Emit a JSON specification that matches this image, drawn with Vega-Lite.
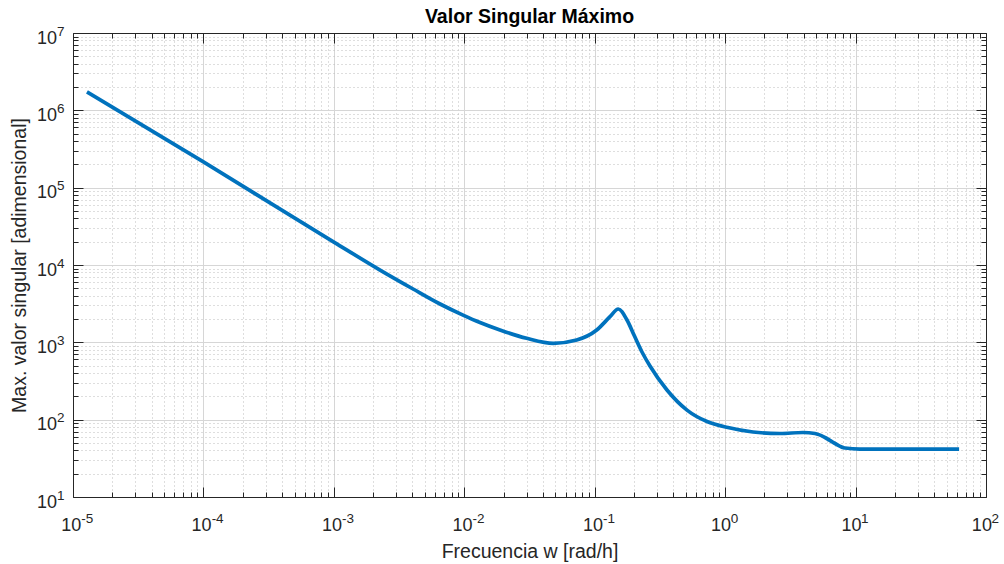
{
  "$schema": "https://vega.github.io/schema/vega-lite/v6.json",
  "autosize": {"type": "none"},
  "width": 913,
  "height": 464,
  "padding": {"left": 73, "top": 33, "right": 18, "bottom": 67},
  "background": "white",
  "title": {
    "text": "Valor Singular Máximo",
    "font": "Liberation Sans",
    "fontSize": 19.5,
    "fontWeight": "bold",
    "color": "#000000",
    "offset": 0,
    "dy": 3
  },
  "config": {
    "view": {"stroke": null},
    "axis": {
      "labelFont": "Liberation Sans",
      "labelFontSize": 18,
      "labelColor": "#262626",
      "titleFont": "Liberation Sans",
      "titleFontSize": 19.5,
      "titleFontWeight": "normal",
      "titleColor": "#262626",
      "domainColor": "#262626",
      "domainWidth": 1,
      "tickColor": "#262626",
      "tickWidth": 1,
      "labelOverlap": false,
      "labelFlush": false,
      "labelBound": false
    }
  },
  "datasets": {
    "sigma": [
      {"w": 1.28e-5, "sv": 1730000},
      {"w": 1e-4, "sv": 215000},
      {"w": 1e-3, "sv": 19800},
      {"w": 2.26e-3, "sv": 8600},
      {"w": 4.05e-3, "sv": 4892},
      {"w": 6.52e-3, "sv": 3130},
      {"w": 9.78e-3, "sv": 2250},
      {"w": 0.0132, "sv": 1804},
      {"w": 0.01878, "sv": 1443},
      {"w": 0.0301, "sv": 1127},
      {"w": 0.04813, "sv": 971},
      {"w": 0.07274, "sv": 1072},
      {"w": 0.1036, "sv": 1443},
      {"w": 0.131, "sv": 2145},
      {"w": 0.1516, "sv": 2697},
      {"w": 0.1768, "sv": 1944},
      {"w": 0.2001, "sv": 1243},
      {"w": 0.2304, "sv": 750},
      {"w": 0.2653, "sv": 494},
      {"w": 0.3581, "sv": 242},
      {"w": 0.5099, "sv": 133},
      {"w": 0.7257, "sv": 94.6},
      {"w": 1.051, "sv": 79.1},
      {"w": 1.635, "sv": 69.2},
      {"w": 2.634, "sv": 66.2},
      {"w": 3.954, "sv": 68.2},
      {"w": 4.886, "sv": 66.2},
      {"w": 5.83, "sv": 58.8},
      {"w": 6.955, "sv": 49.2},
      {"w": 8.297, "sv": 43.0},
      {"w": 10.81, "sv": 41.7},
      {"w": 62.2, "sv": 41.7}
    ]
  },
  "data": {"name": "sigma"},
  "resolve": {"axis": {"x": "independent", "y": "independent"}},
  "layer": [
    {
      "mark": {"type": "line", "color": "#0072BD", "strokeWidth": 3.7, "interpolate": "monotone", "clip": true},
      "encoding": {
        "x": {
          "field": "w",
          "type": "quantitative",
          "scale": {"type": "log", "domain": [1e-5, 100], "nice": false},
          "axis": {
            "orient": "bottom",
            "title": "Frecuencia w [rad/h]",
            "titleY": 60,
            "titleBaseline": "alphabetic",
            "values": [1e-5,2e-5,3e-5,4e-5,5e-5,6e-5,7e-5,8e-5,9e-5,1e-4,2e-4,3e-4,4e-4,5e-4,6e-4,7e-4,8e-4,9e-4,1e-3,2e-3,3e-3,4e-3,5e-3,6e-3,7e-3,8e-3,9e-3,0.01,0.02,0.03,0.04,0.05,0.06,0.07,0.08,0.09,0.1,0.2,0.3,0.4,0.5,0.6,0.7,0.8,0.9,1,2,3,4,5,6,7,8,9,10,20,30,40,50,60,70,80,90,100],
            "labelExpr": "abs(log(datum.value)/LN10 - round(log(datum.value)/LN10)) < 0.001 ? '10' : ''",
            "labelAlign": "right",
            "labelBaseline": "alphabetic",
            "labelPadding": 43,
            "labelOffset": {"condition": {"test": "datum.value < 0.5", "value": 7.7}, "value": 5.4},
            "tickSize": {"condition": {"test": "abs(log(datum.value)/LN10 - round(log(datum.value)/LN10)) < 0.001", "value": -10}, "value": -5},
            "grid": true,
            "gridColor": {"condition": {"test": "abs(log(datum.value)/LN10 - round(log(datum.value)/LN10)) < 0.001", "value": "#d6d6d6"}, "value": "#bdbdbd"},
            "gridDash": {"condition": {"test": "abs(log(datum.value)/LN10 - round(log(datum.value)/LN10)) < 0.001", "value": []}, "value": [1, 3]}
          }
        },
        "y": {
          "field": "sv",
          "type": "quantitative",
          "scale": {"type": "log", "domain": [10, 1e7], "nice": false},
          "axis": {
            "orient": "left",
            "title": "Max. valor singular [adimensional]",
            "titleX": -47.5,
            "titleBaseline": "alphabetic",
            "values": [10,20,30,40,50,60,70,80,90,100,200,300,400,500,600,700,800,900,1000,2000,3000,4000,5000,6000,7000,8000,9000,10000,20000,30000,40000,50000,60000,70000,80000,90000,100000,200000,300000,400000,500000,600000,700000,800000,900000,1000000,2000000,3000000,4000000,5000000,6000000,7000000,8000000,9000000,10000000],
            "labelExpr": "abs(log(datum.value)/LN10 - round(log(datum.value)/LN10)) < 0.001 ? '10' : ''",
            "labelAlign": "right",
            "labelBaseline": "alphabetic",
            "labelPadding": 26.5,
            "labelOffset": 10.3,
            "tickSize": {"condition": {"test": "abs(log(datum.value)/LN10 - round(log(datum.value)/LN10)) < 0.001", "value": -10}, "value": -5},
            "grid": true,
            "gridColor": {"condition": {"test": "abs(log(datum.value)/LN10 - round(log(datum.value)/LN10)) < 0.001", "value": "#d6d6d6"}, "value": "#bdbdbd"},
            "gridDash": {"condition": {"test": "abs(log(datum.value)/LN10 - round(log(datum.value)/LN10)) < 0.001", "value": []}, "value": [1, 3]}
          }
        }
      }
    },
    {
      "mark": {"type": "line", "strokeOpacity": 0},
      "encoding": {
        "x": {
          "field": "w",
          "type": "quantitative",
          "axis": {
            "orient": "top",
            "title": null,
            "labels": false,
            "grid": false,
            "values": [1e-5,2e-5,3e-5,4e-5,5e-5,6e-5,7e-5,8e-5,9e-5,1e-4,2e-4,3e-4,4e-4,5e-4,6e-4,7e-4,8e-4,9e-4,1e-3,2e-3,3e-3,4e-3,5e-3,6e-3,7e-3,8e-3,9e-3,0.01,0.02,0.03,0.04,0.05,0.06,0.07,0.08,0.09,0.1,0.2,0.3,0.4,0.5,0.6,0.7,0.8,0.9,1,2,3,4,5,6,7,8,9,10,20,30,40,50,60,70,80,90,100],
            "tickSize": {"condition": {"test": "abs(log(datum.value)/LN10 - round(log(datum.value)/LN10)) < 0.001", "value": -10}, "value": -5}
          }
        },
        "y": {
          "field": "sv",
          "type": "quantitative",
          "axis": {
            "orient": "right",
            "title": null,
            "labels": false,
            "grid": false,
            "values": [10,20,30,40,50,60,70,80,90,100,200,300,400,500,600,700,800,900,1000,2000,3000,4000,5000,6000,7000,8000,9000,10000,20000,30000,40000,50000,60000,70000,80000,90000,100000,200000,300000,400000,500000,600000,700000,800000,900000,1000000,2000000,3000000,4000000,5000000,6000000,7000000,8000000,9000000,10000000],
            "tickSize": {"condition": {"test": "abs(log(datum.value)/LN10 - round(log(datum.value)/LN10)) < 0.001", "value": -10}, "value": -5}
          }
        }
      }
    },
    {
      "mark": {"type": "line", "strokeOpacity": 0},
      "encoding": {
        "x": {
          "field": "w",
          "type": "quantitative",
          "axis": {
            "orient": "bottom",
            "title": null,
            "domain": false,
            "ticks": false,
            "tickSize": 0,
            "grid": false,
            "values": [1e-5, 1e-4, 1e-3, 0.01, 0.1, 1, 10, 100],
            "labelExpr": "'' + round(log(datum.value)/LN10)",
            "labelFontSize": 13.5,
            "labelAlign": "left",
            "labelBaseline": "alphabetic",
            "labelPadding": 25,
            "labelOffset": {"condition": {"test": "datum.value < 0.5", "value": 7.7}, "value": 5.0}
          }
        },
        "y": {
          "field": "sv",
          "type": "quantitative",
          "axis": {
            "orient": "left",
            "title": null,
            "domain": false,
            "ticks": false,
            "tickSize": 0,
            "grid": false,
            "values": [10, 100, 1000, 10000, 100000, 1000000, 10000000],
            "labelExpr": "'' + round(log(datum.value)/LN10)",
            "labelFontSize": 13.5,
            "labelAlign": "right",
            "labelBaseline": "alphabetic",
            "labelPadding": 9,
            "labelOffset": 2
          }
        }
      }
    }
  ]
}
